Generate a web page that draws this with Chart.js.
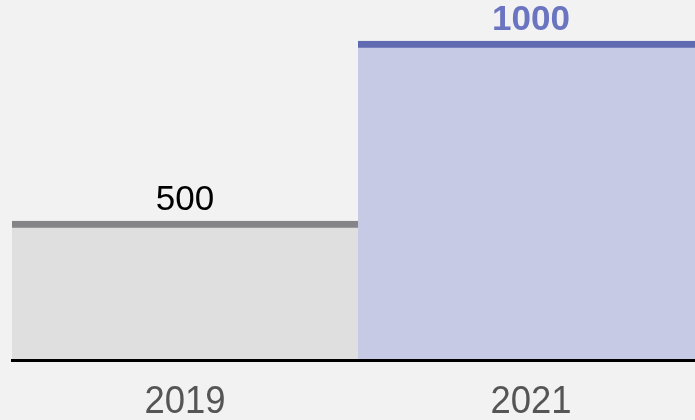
<!DOCTYPE html>
<html>
<head>
<meta charset="utf-8">
<script src="https://cdn.jsdelivr.net/npm/chart.js@4"></script>
<style>
  html, body { margin: 0; padding: 0; background: #f2f2f2; overflow: hidden; }
  #wrap { position: relative; width: 720px; height: 420px; }
</style>
</head>
<body>
<div id="wrap"><canvas id="chart"></canvas></div>
<script>
/* ── Data ── */
const years  = ['2019', '2021'];
const values = [500, 1000];

/* ── Styles per bar ── */
const fillColors   = ['#dfdfdf', '#c6cae5'];
const borderColors = ['#858589', '#5f6ab0'];
const labelColors  = ['#000000', '#6b74c0'];
const labelWeights = ['normal', 'bold'];

/* value labels above each bar */
const valueLabels = {
  id: 'valueLabels',
  afterDatasetsDraw(chart) {
    const ctx = chart.ctx;
    const meta = chart.getDatasetMeta(0);
    ctx.save();
    ctx.textAlign = 'center';
    ctx.textBaseline = 'alphabetic';
    meta.data.forEach((bar, i) => {
      ctx.font = labelWeights[i] + ' 35px "Liberation Sans", Arial, sans-serif';
      ctx.fillStyle = labelColors[i];
      ctx.fillText(String(values[i]), bar.x, bar.y - 11);
    });
    ctx.restore();
  }
};

/* x tick labels, slightly condensed like the original */
const narrowTicks = {
  id: 'narrowTicks',
  afterDraw(chart) {
    const ctx = chart.ctx;
    const xs = chart.scales.x;
    ctx.save();
    ctx.font = '38px "Liberation Sans", Arial, sans-serif';
    ctx.fillStyle = '#555555';
    ctx.textAlign = 'center';
    ctx.textBaseline = 'alphabetic';
    xs.ticks.forEach((t, i) => {
      const x = xs.getPixelForTick(i);
      ctx.save();
      ctx.translate(x, xs.bottom + 53);
      ctx.scale(0.96, 1);
      ctx.fillText(xs.getLabelForValue(t.value), 0, 0);
      ctx.restore();
    });
    ctx.restore();
  }
};

new Chart(document.getElementById('chart'), {
  type: 'bar',
  data: {
    labels: years,
    datasets: [{
      data: values,
      backgroundColor: fillColors,
      borderColor: borderColors,
      borderWidth: { top: 7, left: 0, right: 0, bottom: 0 },
      borderSkipped: 'bottom',
      barPercentage: 1,
      categoryPercentage: 1,
    }],
  },
  options: {
    responsive: true,
    maintainAspectRatio: false,
    animation: false,
    layout: { padding: { left: 12, right: 16, top: 0, bottom: 60 } },
    plugins: { legend: { display: false }, tooltip: { enabled: false } },
    scales: {
      x: {
        grid: { display: false, drawTicks: false },
        border: { display: true, color: '#000000', width: 3, z: 1 },
        ticks: { display: false },
      },
      y: {
        display: false,
        min: 114,
        max: 1114,
      },
    },
  },
  plugins: [valueLabels, narrowTicks],
});
</script>
</body>
</html>
